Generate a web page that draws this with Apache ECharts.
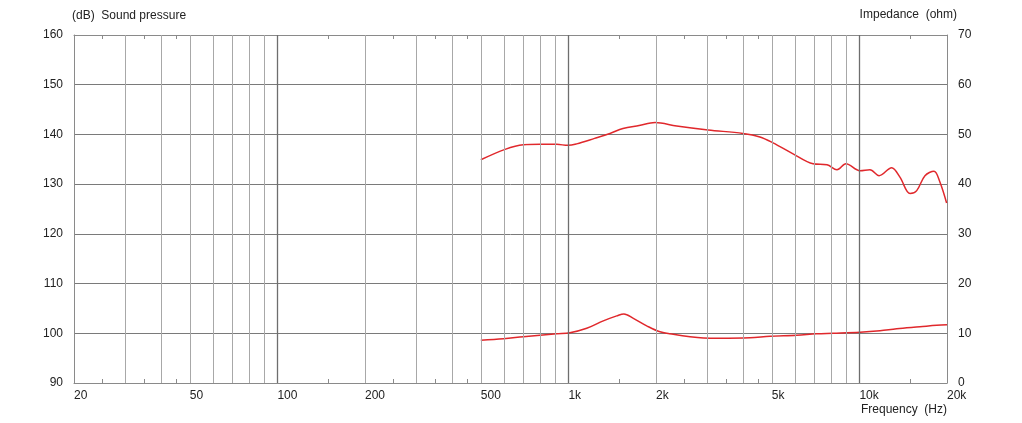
<!DOCTYPE html>
<html>
<head>
<meta charset="utf-8">
<script src="https://cdn.jsdelivr.net/npm/echarts@6/dist/echarts.min.js"></script>
<style>html,body{margin:0;padding:0;background:#fff;}#c{width:1022px;height:423px;}</style>
</head>
<body>
<div id="c"></div>
<script>
// ---- data ----
const splFreq = [500, 606, 700, 800, 912, 997, 1067, 1230, 1390, 1540, 1750, 1985, 2355, 3020, 3980, 4550, 5050, 5915, 6930, 7740, 8375, 8990, 10050, 10870, 11680, 12910, 13780, 14930, 15740, 16800, 18040, 18920, 19940];
const splDb   = [134.9, 137.0, 137.9, 138.0, 138.0, 137.8, 138.1, 139.2, 140.2, 141.2, 141.8, 142.4, 141.7, 140.9, 140.2, 139.5, 138.3, 136.1, 134.1, 133.9, 132.9, 134.1, 132.7, 132.9, 131.7, 133.3, 131.4, 128.1, 128.7, 131.7, 132.6, 130.4, 126.2];
const impFreq = [500, 598, 700, 799, 912, 1012, 1156, 1318, 1466, 1552, 1672, 1858, 2064, 2293, 2618, 2910, 3320, 4208, 4930, 6090, 7130, 8130, 10050, 11770, 13430, 16150, 18440, 20000];
const impOhm  = [8.6, 8.9, 9.3, 9.6, 9.9, 10.1, 11.0, 12.5, 13.5, 13.9, 13.0, 11.5, 10.3, 9.8, 9.3, 9.05, 9.0, 9.1, 9.4, 9.6, 9.9, 10.0, 10.2, 10.5, 10.9, 11.3, 11.6, 11.7];
const xLabelValues = [20, 50, 100, 200, 500, 1000, 2000, 5000, 10000, 20000];
const minorTickValues = [25, 35, 45, 150, 250, 350, 450, 1500, 2500, 3500, 4500, 15000];
const gridMinor = [30, 40, 50, 60, 70, 80, 90, 200, 300, 400, 500, 600, 700, 800, 900, 2000, 3000, 4000, 5000, 6000, 7000, 8000, 9000];
const gridDecade = [100, 1000, 10000];
const leftTitle = '(dB)  Sound pressure';
const rightTitle = 'Impedance  (ohm)';
const xTitle = 'Frequency  (Hz)';

const FONT = '"Liberation Sans", Arial, sans-serif';
const TXT = '#222';
const BORDER = '#8a8a8a';
const chart = echarts.init(document.getElementById('c'), null, {renderer: 'canvas'});

function fmt(v) { return v >= 1000 ? (v / 1000) + 'k' : String(v); }

const xBase = {
  type: 'log', logBase: 10, min: 20, max: 20000,
  axisLine: {show: true, lineStyle: {color: BORDER, width: 1}},
  splitLine: {show: false},
  minorTick: {show: false},
  axisTick: {show: true, inside: true, length: 4, customValues: minorTickValues, lineStyle: {color: BORDER}}
};

chart.setOption({
  animation: false,
  backgroundColor: '#fff',
  grid: {left: 74, right: 75, top: 35, bottom: 40, containLabel: false},
  graphic: [
    {type: 'text', left: 72, top: 10, style: {text: leftTitle, fill: TXT, font: '12px ' + FONT}},
    {type: 'text', right: 65, top: 9, style: {text: rightTitle, fill: TXT, font: '12px ' + FONT}},
    {type: 'text', right: 75, top: 404, style: {text: xTitle, fill: TXT, font: '12px ' + FONT}}
  ],
  xAxis: [
    Object.assign({}, xBase, {
      position: 'bottom',
      axisLabel: {show: true, customValues: xLabelValues, formatter: fmt, align: 'left', margin: 7, color: TXT, fontFamily: FONT, fontSize: 12}
    }),
    Object.assign({}, xBase, {position: 'top', axisLabel: {show: false}})
  ],
  yAxis: [
    {type: 'value', min: 90, max: 160, interval: 10, position: 'left',
     axisLine: {show: true, lineStyle: {color: BORDER}}, axisTick: {show: false},
     axisLabel: {color: TXT, fontFamily: FONT, fontSize: 12, margin: 11},
     splitLine: {show: true, lineStyle: {color: '#7a7a7a', width: 1}}},
    {type: 'value', min: 0, max: 70, interval: 10, position: 'right',
     axisLine: {show: true, lineStyle: {color: BORDER}}, axisTick: {show: false},
     axisLabel: {color: TXT, fontFamily: FONT, fontSize: 12, margin: 11},
     splitLine: {show: false}}
  ],
  series: [
    {type: 'line', name: 'gridMinor', data: [], z: 1, silent: true, symbol: 'none',
     markLine: {silent: true, symbol: ['none', 'none'], label: {show: false}, animation: false,
       lineStyle: {color: '#a8a8a8', width: 1, type: 'solid'},
       data: gridMinor.map(v => ({xAxis: v}))}},
    {type: 'line', name: 'gridDecade', data: [], z: 1, silent: true, symbol: 'none',
     markLine: {silent: true, symbol: ['none', 'none'], label: {show: false}, animation: false,
       lineStyle: {color: '#6e6e6e', width: 1.3, type: 'solid'},
       data: gridDecade.map(v => ({xAxis: v}))}},
    {type: 'line', name: 'SPL', xAxisIndex: 0, yAxisIndex: 0, z: 3, symbol: 'none', smooth: 0.35,
     lineStyle: {color: '#e0282c', width: 1.5},
     data: splFreq.map((f, i) => [f, splDb[i]])},
    {type: 'line', name: 'Impedance', xAxisIndex: 0, yAxisIndex: 1, z: 3, symbol: 'none', smooth: 0.35,
     lineStyle: {color: '#e0282c', width: 1.5},
     data: impFreq.map((f, i) => [f, impOhm[i]])}
  ]
});
</script>
</body>
</html>
